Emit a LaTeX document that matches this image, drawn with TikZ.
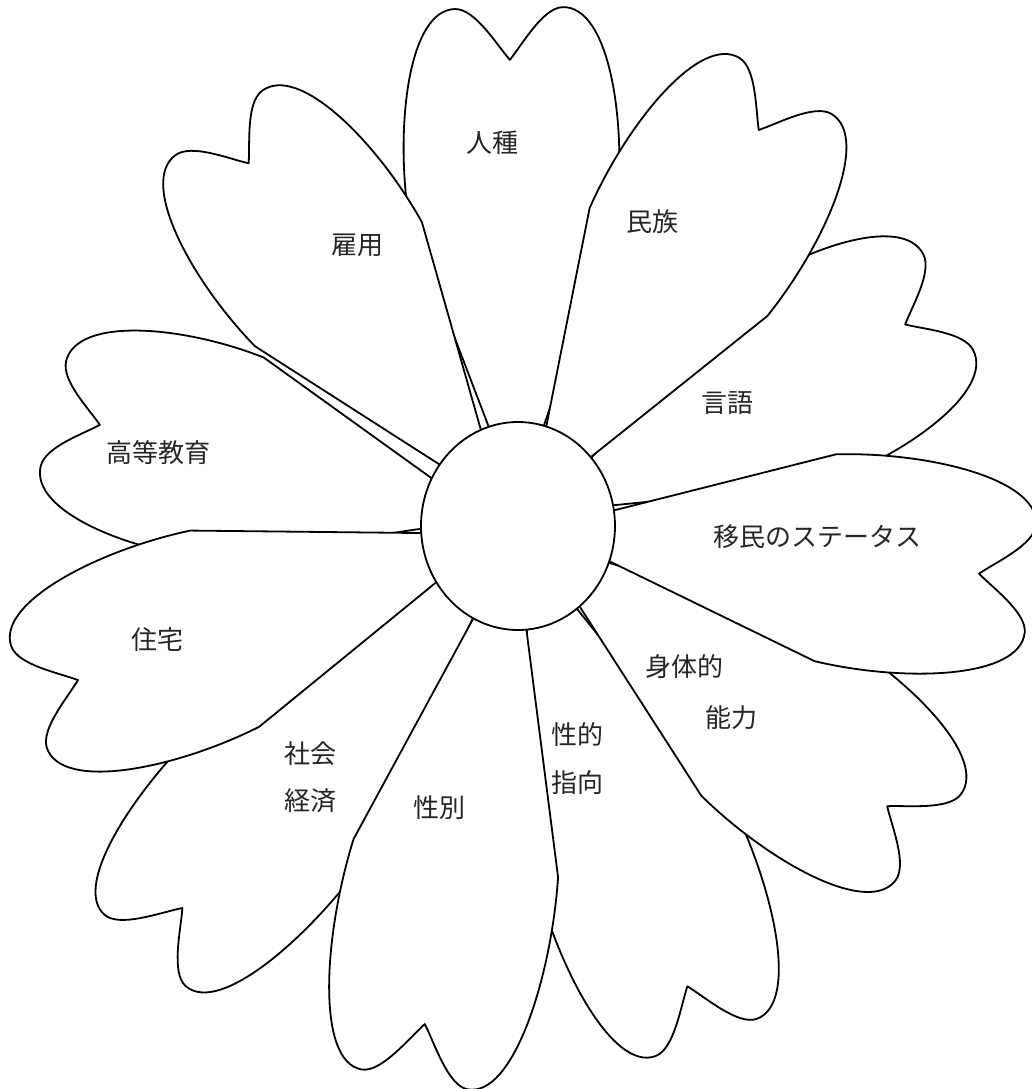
\documentclass[tikz,border=0pt]{standalone}
\usepackage{fontspec}
\newfontfamily\jpfont{Noto Sans CJK JP}
\usetikzlibrary{shapes.geometric}
\begin{document}
\begin{tikzpicture}[x=0.5pt,y=0.5pt,
  petal/.style={draw, fill=white, line width=0.9pt, line join=round},
  word/.style={font=\jpfont\fontsize{13}{15}\selectfont, text=black!85}]
\useasboundingbox (-518,-563) rectangle (514,526);
% petals, the ones at the back first
\foreach \ang/\len in {91/518, 27.5/485, -69.8/545, -131.3/565, 166.4/478,
  126.6/502, -37.2/515, 58.7/515, -5.9/515, -100.6/563, -160.7/518}
  \path[petal, rotate=\ang] (90,-24) -- (0.6*\len,-104)
    .. controls (0.78*\len,-116) and (\len,-100) .. (\len,-54)
    .. controls (\len,-34) and (0.93*\len,-13) .. (0.9*\len,0)
    .. controls (0.93*\len,13) and (\len,34) .. (\len,54)
    .. controls (\len,100) and (0.78*\len,116) .. (0.6*\len,104)
    -- (90,24) -- cycle;
\node[petal, ellipse, inner sep=0pt, minimum width=97pt, minimum height=104pt] (core) at (0,0) {};
% labels
\node[word] (race) at (-25,383) {人種};
\node[word] (ethnic) at (135,304) {民族};
\node[word] (lang) at (210,123) {言語};
\node[word] (immig) at (300,-11) {移民のステータス};
\node[word] (body) at (167,-141) {身体的};
\node[word] (abil) at (214,-192) {能力};
\node[word] (sexor) at (60,-209) {性的};
\node[word] (orient) at (60,-257) {指向};
\node[word] (gender) at (-78,-282) {性別};
\node[word] (social) at (-207,-228) {社会};
\node[word] (econ) at (-207,-275) {経済};
\node[word] (house) at (-360,-114) {住宅};
\node[word] (higher) at (-359,73) {高等教育};
\node[word] (employ) at (-160,281) {雇用};
\end{tikzpicture}
\end{document}
